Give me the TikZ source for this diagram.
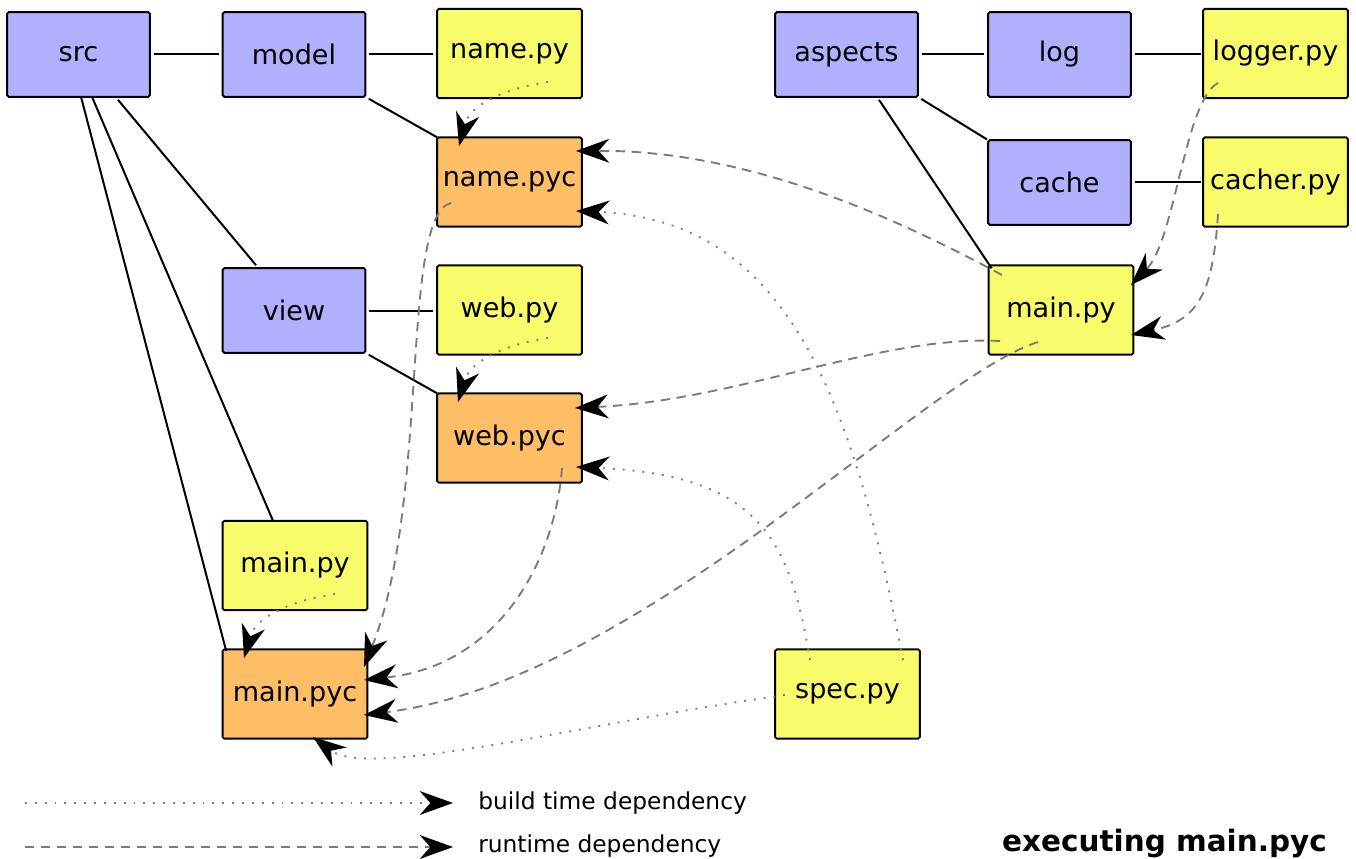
\documentclass[tikz,border=0pt]{standalone}
\usepackage{fontspec}
\setmainfont{DejaVu Sans}
\usetikzlibrary{calc,arrows.meta}
\definecolor{dirblue}{HTML}{B0B0FF}
\definecolor{pyyellow}{HTML}{F8FC6A}
\definecolor{pycorange}{HTML}{FDBE66}
\definecolor{depgray}{HTML}{7A7A7A}
\tikzset{
  box/.style={draw=black,line width=1.4pt,rounded corners=1.2pt,inner sep=0pt,outer sep=0pt,
    font=\fontsize{20.3}{24}\selectfont},
  dirbox/.style={box,fill=dirblue,minimum width=107pt,minimum height=63.5pt},
  pybox/.style={box,fill=pyyellow,minimum width=108.5pt,minimum height=67pt},
  pycbox/.style={box,fill=pycorange,minimum width=108.5pt,minimum height=67pt},
  tree/.style={draw=black,line width=1.5pt},
  tipa/.style={-{Stealth[length=25pt,width=18pt,inset=8pt,color=black,line width=0pt]}},
  builddep/.style={tipa,draw=depgray,line width=1.4pt,dash pattern=on 1.4pt off 6pt},
  rundep/.style={tipa,draw=depgray,line width=1.4pt,dash pattern=on 7pt off 5pt},
  legtext/.style={anchor=west,inner sep=0pt,font=\fontsize{17.5}{20}\selectfont}
}
\begin{document}
\begin{tikzpicture}[x=0.75pt,y=-0.75pt]
\useasboundingbox (0,0) rectangle (1356,859);
% nodes
\node[dirbox] (src) at (78.5,54.5) {src};
\node[dirbox] (model) at (294,54.5) {model};
\node[pybox] (namepy) at (509.5,53.5) {name.py};
\node[pycbox] (namepyc) at (509.5,182) {name.pyc};
\node[dirbox] (view) at (294,310.5) {view};
\node[pybox] (webpy) at (509.5,310) {web.py};
\node[pycbox] (webpyc) at (509.5,438) {web.pyc};
\node[pybox] (mainpyL) at (295,565.5) {main.py};
\node[pycbox] (mainpyc) at (295,694) {main.pyc};
\node[dirbox] (aspects) at (846.5,54.5) {aspects};
\node[dirbox] (log) at (1059.5,54.5) {log};
\node[pybox] (logger) at (1275.5,53.5) {logger.py};
\node[dirbox] (cache) at (1059.5,182.5) {cache};
\node[pybox] (cacher) at (1275.5,182) {cacher.py};
\node[pybox] (mainR) at (1061,310) {main.py};
\node[pybox] (spec) at (847.5,694) {spec.py};
% tree edges
\draw[tree,shorten <=3pt,shorten >=3pt] (src.east) -- (model.west);
\draw[tree,shorten <=3pt,shorten >=3pt] (model.east) -- (model.east -| namepy.west);
\draw[tree,shorten <=3pt] (model.south east) -- (namepyc.north west);
\draw[tree] ($(src.south)+(39.5,3)$) -- ($(view.north)+(-38,-3)$);
\draw[tree] ($(src.south)+(13.5,0)$) -- ($(mainpyL.north)+(-22,0)$);
\draw[tree] ($(src.south)+(2.5,0)$) -- ($(mainpyc.north west)+(3.5,1.5)$);
\draw[tree,shorten <=3pt,shorten >=3pt] (view.east) -- (view.east -| webpy.west);
\draw[tree,shorten <=3pt] (view.south east) -- (webpyc.north west);
\draw[tree,shorten <=3pt,shorten >=3pt] (aspects.east) -- (log.west);
\draw[tree,shorten <=3pt,shorten >=1pt] (aspects.south east) -- (cache.north west);
\draw[tree] ($(aspects.south)+(32.5,3)$) -- ($(mainR.north west)+(3,3)$);
\draw[tree,shorten <=3pt,shorten >=1.5pt] (log.east) -- (log.east -| logger.west);
\draw[tree,shorten <=3pt,shorten >=1.5pt] (cache.east) -- (cache.east -| cacher.west);
% build time dependencies (dotted)
\draw[builddep] ($(namepy.center)+(38.5,28.5)$) .. controls (505,88) and (470,105) .. ($(namepyc.center)+(-50.5,-36)$);
\draw[builddep] ($(webpy.center)+(38.5,28)$) .. controls (505,344) and (470,362) .. ($(webpyc.center)+(-51.5,-36)$);
\draw[builddep] ($(mainpyL.center)+(40,28.5)$) .. controls (292,600) and (256,617) .. ($(mainpyc.center)+(-51,-36)$);
\draw[builddep] ($(spec.center)+(55.5,-34)$) .. controls (850,380) and (780,220) .. ($(namepyc.center)+(66.5,29)$);
\draw[builddep] ($(spec.center)+(-37.5,-34)$) .. controls (790,540) and (760,475) .. ($(webpyc.center)+(66.5,29)$);
\draw[builddep] ($(spec.center)+(-62.5,1)$) .. controls (600,720) and (370,780) .. ($(mainpyc.center)+(18,43)$);
% runtime dependencies (dashed)
\draw[rundep] ($(logger.center)+(-57.5,29.5)$) .. controls (1185,100) and (1175,240) .. ($(mainR.center)+(70,-25)$);
\draw[rundep] ($(cacher.center)+(-57.5,32)$) .. controls (1213,290) and (1200,320) .. ($(mainR.center)+(70,25)$);
\draw[rundep] ($(mainR.center)+(-59,-35)$) .. controls (900,220) and (750,150) .. ($(namepyc.center)+(66.5,-31)$);
\draw[rundep] ($(mainR.center)+(-61,31)$) .. controls (880,335) and (740,400) .. ($(webpyc.center)+(65.5,-30)$);
\draw[rundep] ($(mainR.center)+(-23,32)$) .. controls (920,380) and (640,680) .. ($(mainpyc.center)+(69,21)$);
\draw[rundep] ($(namepyc.center)+(-58.5,21)$) .. controls (400,215) and (430,500) .. ($(mainpyc.center)+(69,-27)$);
\draw[rundep] ($(webpyc.center)+(52.5,30)$) .. controls (555,560) and (500,665) .. ($(mainpyc.center)+(69,-14)$);
% legend
\coordinate (l1a) at (25,803);
\coordinate (l1b) at (453,803);
\coordinate (l2a) at (25,847);
\coordinate (l2b) at (453,847);
\draw[builddep] (l1a) -- (l1b);
\draw[rundep] (l2a) -- (l2b);
\node[legtext] (lt1) at (478,803) {build time dependency};
\node[legtext] (lt2) at (478,846) {runtime dependency};
\node[anchor=east,inner sep=0pt,font=\fontsize{22.1}{26}\selectfont\bfseries] (title) at (1327,843) {executing main.pyc};
\end{tikzpicture}
\end{document}
